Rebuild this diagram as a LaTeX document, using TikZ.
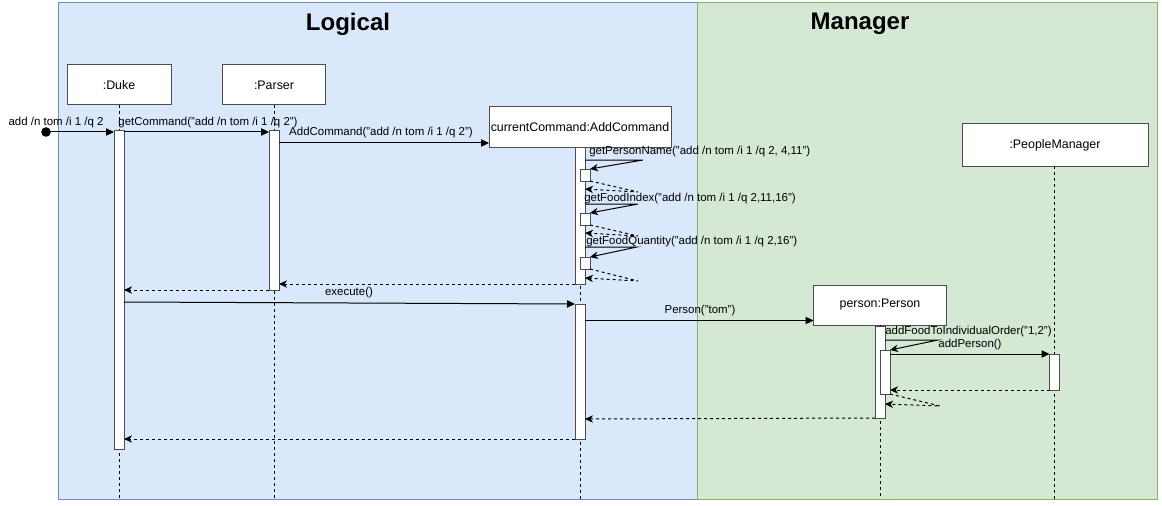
\documentclass[tikz,border=0pt]{standalone}
\usepackage{fontspec}
\setmainfont{Liberation Sans}
\usetikzlibrary{arrows.meta}
\definecolor{logfill}{HTML}{DAE8FC}
\definecolor{logline}{HTML}{6C8EBF}
\definecolor{mgrfill}{HTML}{D5E8D4}
\definecolor{mgrline}{HTML}{82B366}
\definecolor{boxline}{HTML}{4D4D4D}
\tikzset{
  region/.style={line width=0.75pt},
  title/.style={font=\fontsize{18}{20}\selectfont\bfseries},
  objbox/.style={draw=boxline, fill=white, line width=0.75pt, inner sep=0pt, outer sep=0pt, minimum height=30pt, font=\fontsize{9.3}{11}\selectfont},
  actbar/.style={draw=boxline, fill=white, line width=0.75pt, inner sep=0pt, outer sep=0pt, minimum width=7.5pt},
  lifeline/.style={line width=0.75pt, dash pattern=on 2.25pt off 2.25pt},
  msg/.style={line width=0.75pt, -{Triangle[length=6pt,width=5.5pt]}},
  selfmsg/.style={line width=0.75pt, -{Stealth[length=6pt,width=5.5pt,inset=1.8pt]}},
  ret/.style={line width=0.75pt, dash pattern=on 2.25pt off 2.25pt, -{Stealth[length=6pt,width=5.5pt,inset=1.8pt]}},
  lbl/.style={font=\fontsize{8.6}{10}\selectfont, inner sep=0pt},
}
\begin{document}
\begin{tikzpicture}[x=0.75pt,y=-0.75pt]
\useasboundingbox (0,0) rectangle (1162,506);
% regions
\draw[region, fill=logfill, draw=logline] (58,3) rectangle (697,499);
\draw[region, fill=mgrfill, draw=mgrline] (697,3) rectangle (1157,499);
\node[title] (tLog) at (348,24) {Logical};
\node[title] (tMgr) at (860,24) {Manager};

% object boxes
\node[objbox, minimum width=78pt] (dBox) at (119,85) {:Duke};
\node[objbox, minimum width=77.25pt] (pBox) at (274,85) {:Parser};
\node[objbox, minimum width=136.5pt, minimum height=30.75pt] (cBox) at (580,127) {currentCommand:AddCommand};
\node[objbox, minimum width=99.75pt] (perBox) at (880,305) {person:Person};
\node[objbox, minimum width=139.5pt, minimum height=31.5pt] (pmBox) at (1055,145) {:PeopleManager};

% lifelines
\draw[lifeline] (dBox.south) -- (dBox.south |- 0,499);
\draw[lifeline] (pBox.south) -- (pBox.south |- 0,499);
\draw[lifeline] (cBox.south) -- (cBox.south |- 0,499);
\draw[lifeline] (perBox.south) -- (perBox.south |- 0,499);
\draw[lifeline] (1054,166) -- (1054,499);

% activation bars
\node[actbar, minimum height=238.5pt] (dAct) at (119,290) {};
\node[actbar, minimum height=119.25pt] (pAct) at (274,210.5) {};
\node[actbar, minimum height=102pt] (cAct1) at (580,216) {};
\node[actbar, minimum height=9pt] (s1) at (585,175) {};
\node[actbar, minimum height=9pt] (s2) at (585,219) {};
\node[actbar, minimum height=9pt] (s3) at (585,263) {};
\node[actbar, minimum height=101.25pt] (cAct2) at (580,371.5) {};
\node[actbar, minimum height=69pt] (perAct) at (880,372) {};
\node[actbar, minimum height=33pt] (perAct2) at (885,372) {};
\node[actbar, minimum height=27pt] (pmAct) at (1054.5,372) {};

% found message
\fill (46,132) circle (3.6pt);
\coordinate (found) at (46,132);
\draw[msg] (found) -- (dAct.west |- 0,132);
\node[lbl] (lFound) at (56,123) {add /n tom /i 1 /q 2};

% getCommand
\draw[msg] (dAct.east |- 0,132) -- (pAct.west |- 0,132);
\node[lbl] (lGet) at (208,123) {getCommand("add /n tom /i 1 /q 2")};

% AddCommand constructor
\draw[msg] (pAct.east |- 0,143) -- (cBox.west |- 0,143);
\node[lbl] (lAdd) at (381,133) {AddCommand("add /n tom /i 1 /q 2")};

% self calls
\draw[selfmsg] (cAct1.east |- 0,160) -- (643,160) -- (s1.north east);
\node[lbl, anchor=west] (lS1) at (589,152) {getPersonName("add /n tom /i 1 /q 2, 4,11")};
\draw[ret] (s1.south east) -- (638,192) -- (cAct1.east |- 0,189);

\draw[selfmsg] (cAct1.east |- 0,204) -- (638,204) -- (s2.north east);
\node[lbl, anchor=west] (lS2) at (584,199) {getFoodIndex("add /n tom /i 1 /q 2,11,16")};
\draw[ret] (s2.south east) -- (638,236) -- (cAct1.east |- 0,233);

\draw[selfmsg] (cAct1.east |- 0,247) -- (637,247) -- (s3.north east);
\node[lbl, anchor=west] (lS3) at (586,242) {getFoodQuantity("add /n tom /i 1 /q 2,16")};
\draw[ret] (s3.south east) -- (638,281) -- (cAct1.east |- 0,278);

% returns to Parser and Duke
\draw[ret] (cAct1.south west) -- (pAct.east |- 0,284);
\draw[ret] (pAct.south west) -- (dAct.east |- 0,290);

% execute
\draw[msg] (dAct.east |- 0,302) -- (cAct2.north west);
\node[lbl] (lExec) at (349,293) {execute()};

% Person("tom")
\draw[msg] (cAct2.east |- 0,320.5) -- (perBox.west |- 0,320.5);
\node[lbl] (lPer) at (700,311) {Person("tom")};

% addFoodToIndividualOrder self call
\draw[selfmsg] (perAct.east |- 0,340) -- (938,340) -- (perAct2.north east);
\node[lbl, anchor=west] (lFood) at (885,332) {addFoodToIndividualOrder("1,2")};

% addPerson
\draw[msg] (perAct2.east |- 0,354) -- (pmAct.north west);
\node[lbl] (lAddP) at (970,345) {addPerson()};
\draw[ret] (pmAct.south west) -- (perAct2.east |- 0,390);
\draw[ret] (perAct2.south east) -- (940,406) -- (perAct.east |- 0,404);

% final returns
\draw[ret] (perAct.south west) -- (cAct2.east |- 0,419);
\draw[ret] (cAct2.south west) -- (dAct.east |- 0,439);
\end{tikzpicture}
\end{document}
